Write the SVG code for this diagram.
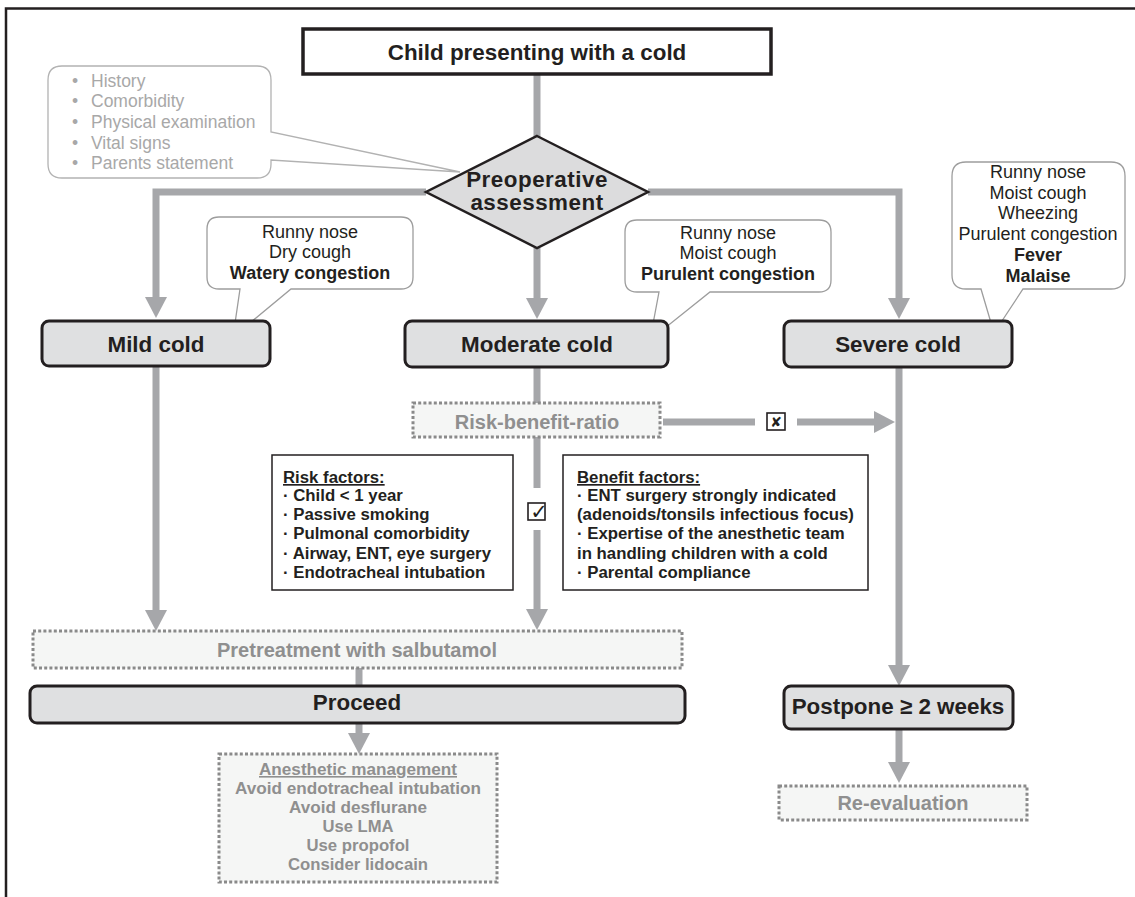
<svg xmlns="http://www.w3.org/2000/svg" width="1135" height="897" viewBox="0 0 1135 897">
<style>
  text { font-family: "Liberation Sans", Arial, sans-serif; fill: #231f20; }
  .node { fill: #dfe0e1; stroke: #231f20; stroke-width: 3; }
  .lbl { font-size: 22.4px; font-weight: bold; text-anchor: middle; }
  .conn { fill: none; stroke: #a6a7aa; stroke-width: 7; }
  .dot { fill: #f5f6f5; stroke: #8a8a8a; stroke-width: 3; stroke-dasharray: 3 2.2; }
  .glbl { font-size: 20px; font-weight: bold; text-anchor: middle; fill: #8f8f8f; }
  .am { font-size: 16px; }
  .call { fill: #ffffff; stroke: #9d9d9d; stroke-width: 1.3; }
  .ct { font-size: 18px; text-anchor: middle; }
  .b { font-weight: bold; }
  .fbox { fill: #ffffff; stroke: #231f20; stroke-width: 1.5; }
  .ft { font-size: 16.8px; font-weight: bold; }
  .hist { font-size: 17.5px; fill: #a8a8a8; }
  .sym { font-family: "DejaVu Sans", sans-serif; font-weight: bold; text-anchor: middle; }
</style>
<defs>
  <marker id="ah" markerUnits="userSpaceOnUse" markerWidth="22" markerHeight="22" viewBox="0 0 22 22" refX="0" refY="11" orient="auto">
    <path d="M0,0 L21,11 L0,22 Z" fill="#a6a7aa"/>
  </marker>
</defs>

<path d="M6,897 V8.5 H1135" fill="none" stroke="#231f20" stroke-width="2.5"/>

<g id="connectors">
  <path class="conn" d="M537,75 V137"/>
  <path class="conn" d="M426,192 H156 V297" marker-end="url(#ah)"/>
  <path class="conn" d="M648,192 H899 V298" marker-end="url(#ah)"/>
  <path class="conn" d="M537,248 V298" marker-end="url(#ah)"/>
  <path class="conn" d="M156,367 V610" marker-end="url(#ah)"/>
  <path class="conn" d="M537,367 V403"/>
  <path class="conn" d="M537,437 V488"/>
  <path class="conn" d="M537,530 V609" marker-end="url(#ah)"/>
  <path class="conn" d="M663,422 H755"/>
  <path class="conn" d="M797,422 H874" marker-end="url(#ah)"/>
  <path class="conn" d="M899,367 V665" marker-end="url(#ah)"/>
  <path class="conn" d="M359,668 V686"/>
  <path class="conn" d="M359,723 V733" marker-end="url(#ah)"/>
  <path class="conn" d="M899,729 V762" marker-end="url(#ah)"/>
  <g id="check-yes">
    <rect x="528" y="503" width="17" height="17" fill="#ffffff" stroke="#231f20" stroke-width="1.6"/>
    <text class="sym" x="539" y="519" font-size="21">✓</text>
  </g>
  <g id="check-no">
    <rect x="767" y="413" width="18" height="17" fill="#ffffff" stroke="#231f20" stroke-width="1.6"/>
    <text class="sym" x="776" y="427" font-size="14">✘</text>
  </g>
</g>

<g id="title">
  <rect x="303" y="29" width="468" height="45" fill="#ffffff" stroke="#231f20" stroke-width="3.5"/>
  <text class="lbl" x="537" y="59.5">Child presenting with a cold</text>
</g>

<g id="history-callout">
  <path class="call" style="stroke:#b2b2b2" d="M62,66 H257 Q271,66 271,80 V132 L460,172 L271,160 V164 Q271,178 257,178 H62 Q48,178 48,164 V80 Q48,66 62,66 Z"/>
  <text class="hist" x="72" y="87">•</text><text class="hist" x="91" y="87">History</text>
  <text class="hist" x="72" y="107">•</text><text class="hist" x="91" y="107">Comorbidity</text>
  <text class="hist" x="72" y="128">•</text><text class="hist" x="91" y="128">Physical examination</text>
  <text class="hist" x="72" y="149">•</text><text class="hist" x="91" y="149">Vital signs</text>
  <text class="hist" x="72" y="169">•</text><text class="hist" x="91" y="169">Parents statement</text>
</g>

<g id="preop">
  <polygon points="537,136 648,192 537,248 426,192" fill="#dcdcdd" stroke="#231f20" stroke-width="2.5"/>
  <text class="lbl" x="537" y="187" font-size="19" letter-spacing="0.5">Preoperative</text>
  <text class="lbl" x="537" y="210" font-size="19" letter-spacing="0.5">assessment</text>
</g>

<g id="mild-callout">
  <path class="call" d="M219,217 H401 Q413,217 413,229 V277 Q413,289 401,289 H291 L233,337 L240,289 H219 Q207,289 207,277 V229 Q207,217 219,217 Z"/>
  <text class="ct" x="310" y="238">Runny nose</text>
  <text class="ct" x="310" y="258">Dry cough</text>
  <text class="ct b" x="310" y="279">Watery congestion</text>
</g>

<g id="moderate-callout">
  <path class="call" d="M637,220 H819 Q831,220 831,232 V280 Q831,292 819,292 H710 L650,340 L659,292 H637 Q625,292 625,280 V232 Q625,220 637,220 Z"/>
  <text class="ct" x="728" y="239">Runny nose</text>
  <text class="ct" x="728" y="259">Moist cough</text>
  <text class="ct b" x="728" y="280">Purulent congestion</text>
</g>

<g id="severe-callout">
  <path class="call" d="M966,162 H1111 Q1125,162 1125,176 V275 Q1125,289 1111,289 H1023 L994,333 L981,289 H966 Q952,289 952,275 V176 Q952,162 966,162 Z"/>
  <text class="ct" x="1038" y="178">Runny nose</text>
  <text class="ct" x="1038" y="199">Moist cough</text>
  <text class="ct" x="1038" y="219">Wheezing</text>
  <text class="ct" x="1038" y="240">Purulent congestion</text>
  <text class="ct b" x="1038" y="261">Fever</text>
  <text class="ct b" x="1038" y="282">Malaise</text>
</g>

<g id="mild">
  <rect class="node" x="42" y="321" width="228" height="45" rx="7"/>
  <text class="lbl" x="156" y="351.5">Mild cold</text>
</g>
<g id="moderate">
  <rect class="node" x="405" y="321" width="263" height="46" rx="7"/>
  <text class="lbl" x="537" y="351.5">Moderate cold</text>
</g>
<g id="severe">
  <rect class="node" x="784" y="321" width="228" height="46" rx="7"/>
  <text class="lbl" x="898" y="351.5">Severe cold</text>
</g>

<g id="risk-benefit">
  <rect class="dot" x="413" y="403" width="247" height="34"/>
  <text class="glbl" x="537" y="429">Risk-benefit-ratio</text>
</g>

<g id="risk-factors">
  <rect class="fbox" x="272" y="455" width="241" height="135"/>
  <text class="ft" x="283" y="483" text-decoration="underline">Risk factors:</text>
  <text class="ft" x="283" y="501">· Child &lt; 1 year</text>
  <text class="ft" x="283" y="520">· Passive smoking</text>
  <text class="ft" x="283" y="539">· Pulmonal comorbidity</text>
  <text class="ft" x="283" y="559">· Airway, ENT, eye surgery</text>
  <text class="ft" x="283" y="578">· Endotracheal intubation</text>
</g>

<g id="benefit-factors">
  <rect class="fbox" x="563" y="455" width="305" height="135"/>
  <text class="ft" x="577" y="483" text-decoration="underline">Benefit factors:</text>
  <text class="ft" x="577" y="501">· ENT surgery strongly indicated</text>
  <text class="ft" x="577" y="520">(adenoids/tonsils infectious focus)</text>
  <text class="ft" x="577" y="539">· Expertise of the anesthetic team</text>
  <text class="ft" x="577" y="559">in handling children with a cold</text>
  <text class="ft" x="577" y="578">· Parental compliance</text>
</g>

<g id="pretreatment">
  <rect class="dot" x="33" y="631" width="649" height="37"/>
  <text class="glbl" x="357" y="656.5">Pretreatment with salbutamol</text>
</g>

<g id="proceed">
  <rect class="node" x="30" y="686" width="655" height="37" rx="7"/>
  <text class="lbl" x="357" y="710" font-size="19.5">Proceed</text>
</g>

<g id="anesthetic">
  <rect class="dot" x="219" y="754" width="278" height="128"/>
  <text class="glbl am" x="358" y="775" text-decoration="underline" textLength="198" lengthAdjust="spacingAndGlyphs">Anesthetic management</text>
  <text class="glbl am" x="358" y="794" textLength="246" lengthAdjust="spacingAndGlyphs">Avoid endotracheal intubation</text>
  <text class="glbl am" x="358" y="813" textLength="138" lengthAdjust="spacingAndGlyphs">Avoid desflurane</text>
  <text class="glbl am" x="358" y="832" textLength="71" lengthAdjust="spacingAndGlyphs">Use LMA</text>
  <text class="glbl am" x="358" y="851" textLength="103" lengthAdjust="spacingAndGlyphs">Use propofol</text>
  <text class="glbl am" x="358" y="870" textLength="140" lengthAdjust="spacingAndGlyphs">Consider lidocain</text>
</g>

<g id="postpone">
  <rect class="node" x="784" y="686" width="229" height="43" rx="7"/>
  <text class="lbl" x="898" y="714" font-size="19">Postpone ≥ 2 weeks</text>
</g>

<g id="reevaluation">
  <rect class="dot" x="779" y="786" width="248" height="34"/>
  <text class="glbl" x="903" y="810">Re-evaluation</text>
</g>
</svg>
